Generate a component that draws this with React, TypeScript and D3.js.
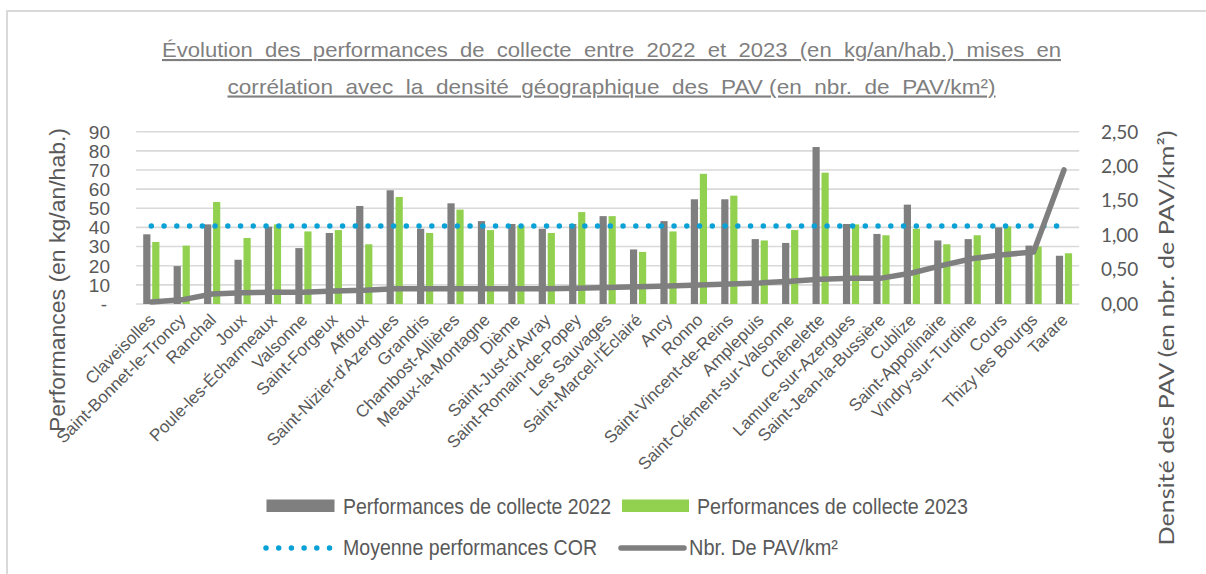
import React from "react";
import * as d3 from "d3";

const categories = [
  "Claveisolles", "Saint-Bonnet-le-Troncy", "Ranchal", "Joux", "Poule-les-Écharmeaux",
  "Valsonne", "Saint-Forgeux", "Affoux", "Saint-Nizier-d'Azergues", "Grandris",
  "Chambost-Allières", "Meaux-la-Montagne", "Dième", "Saint-Just-d'Avray", "Saint-Romain-de-Popey",
  "Les Sauvages", "Saint-Marcel-l'Éclairé", "Ancy", "Ronno", "Saint-Vincent-de-Reins",
  "Amplepuis", "Saint-Clément-sur-Valsonne", "Chênelette", "Lamure-sur-Azergues", "Saint-Jean-la-Bussière",
  "Cublize", "Saint-Appolinaire", "Vindry-sur-Turdine", "Cours", "Thizy les Bourgs", "Tarare",
];

const perf2022 = [36.4, 19.8, 41.6, 23.1, 40.4, 29.2, 37.1, 51.2, 59.4, 39.3, 52.6, 43.3, 41.8, 39.3, 41.8, 45.9, 28.5, 43.3, 54.7, 54.7, 33.9, 31.9, 82.0, 41.8, 36.6, 51.9, 33.2, 33.9, 40.0, 30.5, 25.2];
const perf2023 = [32.4, 30.5, 53.3, 34.5, 41.6, 37.9, 38.6, 31.2, 55.9, 37.1, 49.3, 38.6, 41.1, 37.1, 48.0, 45.9, 27.2, 37.9, 68.0, 56.6, 33.2, 38.6, 68.6, 41.6, 35.9, 39.3, 31.2, 35.9, 40.6, 30.0, 26.5];
const densite = [0.03, 0.06, 0.145, 0.165, 0.17, 0.17, 0.19, 0.2, 0.22, 0.22, 0.22, 0.22, 0.22, 0.22, 0.23, 0.24, 0.25, 0.26, 0.275, 0.29, 0.305, 0.33, 0.36, 0.375, 0.375, 0.45, 0.56, 0.66, 0.715, 0.755, 1.945];
const moyenneCOR = 40.7;

const leftTicks = [0, 10, 20, 30, 40, 50, 60, 70, 80, 90];
const rightTicks = [0, 0.5, 1, 1.5, 2, 2.5];

const titleLines = [
  "Évolution  des  performances  de  collecte  entre  2022  et  2023  (en  kg/an/hab.)  mises  en",
  "corrélation  avec  la  densité  géographique  des  PAV (en  nbr.  de  PAV/km²)",
];

const FONT = "'Liberation Sans', Arial, sans-serif";
const FONT_R = "Lato, 'Open Sans', 'Noto Sans', sans-serif";
const TXT = "#595959";
const GRAY = "#7f7f7f";
const GREEN = "#92d050";
const BLUE = "#0aa2d6";
const GRID = "#d9d9d9";

export default function App() {
  const W = 1206, H = 574;
  const x0 = 136.1, x1 = 1079.2, yBottom = 304, yTop = 131.7;

  const x = d3.scaleBand<string>().domain(categories).range([x0, x1]).paddingInner(0).paddingOuter(0);
  const inner = d3.scaleBand<string>().domain(["2022", "2023"]).range([-8.1, 8.1]).paddingInner(0.2);
  const yL = d3.scaleLinear().domain([0, 90]).range([yBottom, yTop]);
  const yR = d3.scaleLinear().domain([0, 2.5]).range([yBottom, yTop]);
  const cx = (c: string) => (x(c) as number) + x.bandwidth() / 2;

  const densLine = d3.line<number>()
    .x((_, i) => cx(categories[i]))
    .y((d) => yR(d));

  const fmtR = (v: number) => d3.format(".2f")(v).replace(".", ",");

  return (
    <svg width={W} height={H} style={{ position: "absolute", left: 0, top: 0, background: "#fff" }}
      fontFamily={FONT}>
      <rect x={7} y={11} width={W} height={H} fill="#fff" stroke={GRID} strokeWidth={2} />

      {/* Title */}
      {titleLines.map((t, i) => (
        <text key={i} x={611.5} y={57 + i * 36.5} textAnchor="middle" fontSize={21} fill={GRAY}
          style={{ whiteSpace: "pre", textDecoration: "underline" }}
          textLength={i === 0 ? 899 : 768} lengthAdjust="spacingAndGlyphs">{t}</text>
      ))}

      {/* Gridlines */}
      {leftTicks.map((t) => (
        <line key={t} x1={x0} x2={x1} y1={yL(t)} y2={yL(t)} stroke={GRID} strokeWidth={1.6} />
      ))}

      {/* Left ticks */}
      {leftTicks.map((t) => (
        <text key={t} x={t === 0 ? 107 : 110} y={yL(t)} dy="0.36em" textAnchor="end" fontSize={19} fill={TXT}>
          {t === 0 ? "-" : String(t)}
        </text>
      ))}
      {/* Right ticks */}
      {rightTicks.map((t) => (
        <text key={t} x={1101} y={yR(t)} dy="0.36em" textAnchor="start" fontSize={19} fill={TXT} fontFamily={FONT_R}>
          {fmtR(t)}
        </text>
      ))}

      {/* Axis titles */}
      <text transform="translate(65,280) rotate(-90)" textAnchor="middle" fontSize={22} fill={TXT}
        textLength={304} lengthAdjust="spacingAndGlyphs">
        Performances (en kg/an/hab.)
      </text>
      <text transform="translate(1174,338) rotate(-90)" textAnchor="middle" fontSize={21} fill={TXT}
        fontFamily={FONT_R} textLength={415} lengthAdjust="spacingAndGlyphs">
        Densité des PAV (en nbr. de PAV/km²)
      </text>

      {/* Bars */}
      {categories.map((c, i) => (
        <g key={c}>
          <rect x={cx(c) + (inner("2022") as number)} width={inner.bandwidth()}
            y={yL(perf2022[i])} height={yBottom - yL(perf2022[i])} fill={GRAY} />
          <rect x={cx(c) + (inner("2023") as number)} width={inner.bandwidth()}
            y={yL(perf2023[i])} height={yBottom - yL(perf2023[i])} fill={GREEN} />
        </g>
      ))}

      {/* Moyenne COR dotted */}
      <line x1={cx(categories[0])} x2={cx(categories[categories.length - 1])}
        y1={yL(moyenneCOR)} y2={yL(moyenneCOR)} stroke={BLUE} strokeWidth={5.5}
        strokeDasharray="0 12.75" strokeLinecap="round" />

      {/* Density line */}
      <path d={densLine(densite) as string} fill="none" stroke={GRAY} strokeWidth={5.5}
        strokeLinejoin="round" strokeLinecap="round" />

      {/* X labels */}
      {categories.map((c) => (
        <text key={c} transform={`translate(${cx(c) + 5},${321}) rotate(-45)`} textAnchor="end"
          fontSize={17} fill={TXT}>{c}</text>
      ))}

      {/* Legend */}
      <g>
        <rect x={266.5} y={499.5} width={68} height={12.5} fill={GRAY} />
        <text x={343} y={506} dy="0.36em" fontSize={22} fill={TXT} textLength={268} lengthAdjust="spacingAndGlyphs">
          Performances de collecte 2022
        </text>
        <rect x={622} y={499.5} width={67} height={12.5} fill={GREEN} />
        <text x={697} y={506} dy="0.36em" fontSize={22} fill={TXT} textLength={271} lengthAdjust="spacingAndGlyphs">
          Performances de collecte 2023
        </text>
        <line x1={266} x2={333} y1={548} y2={548} stroke={BLUE} strokeWidth={5.5}
          strokeDasharray="0 12.7" strokeLinecap="round" />
        <text x={343} y={547} dy="0.36em" fontSize={22} fill={TXT} textLength={254} lengthAdjust="spacingAndGlyphs">
          Moyenne performances COR
        </text>
        <line x1={621} x2={684} y1={548} y2={548} stroke={GRAY} strokeWidth={5.5} strokeLinecap="round" />
        <text x={689} y={547} dy="0.36em" fontSize={22} fill={TXT} textLength={149} lengthAdjust="spacingAndGlyphs">
          Nbr. De PAV/km²
        </text>
      </g>
    </svg>
  );
}
